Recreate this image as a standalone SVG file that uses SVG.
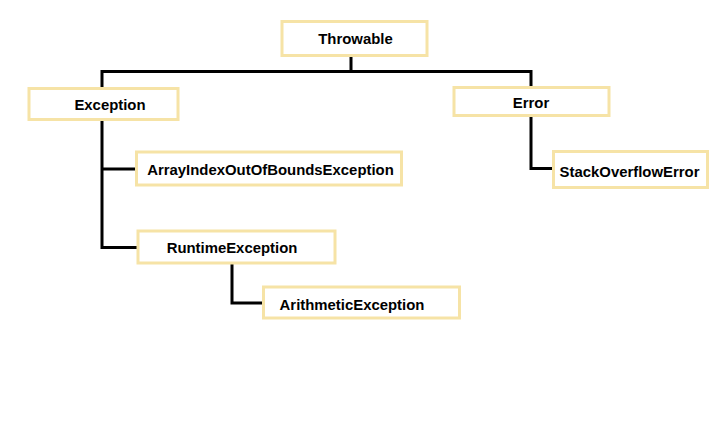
<svg xmlns="http://www.w3.org/2000/svg" width="709" height="444" viewBox="0 0 709 444">
<style>
.box{fill:#fff;stroke:#f6e3a6;stroke-width:3}
.lbl{font-family:"Liberation Sans",Arial,sans-serif;font-weight:bold;font-size:14.9px;fill:#000;text-anchor:middle}
.ln{fill:none;stroke:#000;stroke-width:3}
</style>
<rect width="709" height="444" fill="#fff"/>
<g id="connectors">
<path class="ln" d="M351 55V71.5M102 88V71.5H531V87"/>
<path class="ln" d="M102 119V247.5H138M102 169H136"/>
<path class="ln" d="M531 116V168.5H553"/>
<path class="ln" d="M232 263V303H263"/>
</g>
<g id="throwable"><rect class="box" x="282" y="21.5" width="145" height="34"/><text class="lbl" x="355.5" y="44">Throwable</text></g>
<g id="exception"><rect class="box" x="29" y="88.5" width="149" height="31"/><text class="lbl" x="110" y="110">Exception</text></g>
<g id="error"><rect class="box" x="454" y="87.5" width="155" height="28"/><text class="lbl" x="531" y="107.5">Error</text></g>
<g id="arrayindex"><rect class="box" x="136.5" y="152" width="265" height="33"/><text class="lbl" x="270.5" y="174.5">ArrayIndexOutOfBoundsException</text></g>
<g id="stackoverflow"><rect class="box" x="553.5" y="151.5" width="154" height="36"/><text class="lbl" x="629.5" y="177">StackOverflowError</text></g>
<g id="runtime"><rect class="box" x="138" y="231" width="197" height="32"/><text class="lbl" x="232" y="252.5">RuntimeException</text></g>
<g id="arithmetic"><rect class="box" x="263.5" y="287" width="196" height="31"/><text class="lbl" x="352" y="309.5">ArithmeticException</text></g>
</svg>
